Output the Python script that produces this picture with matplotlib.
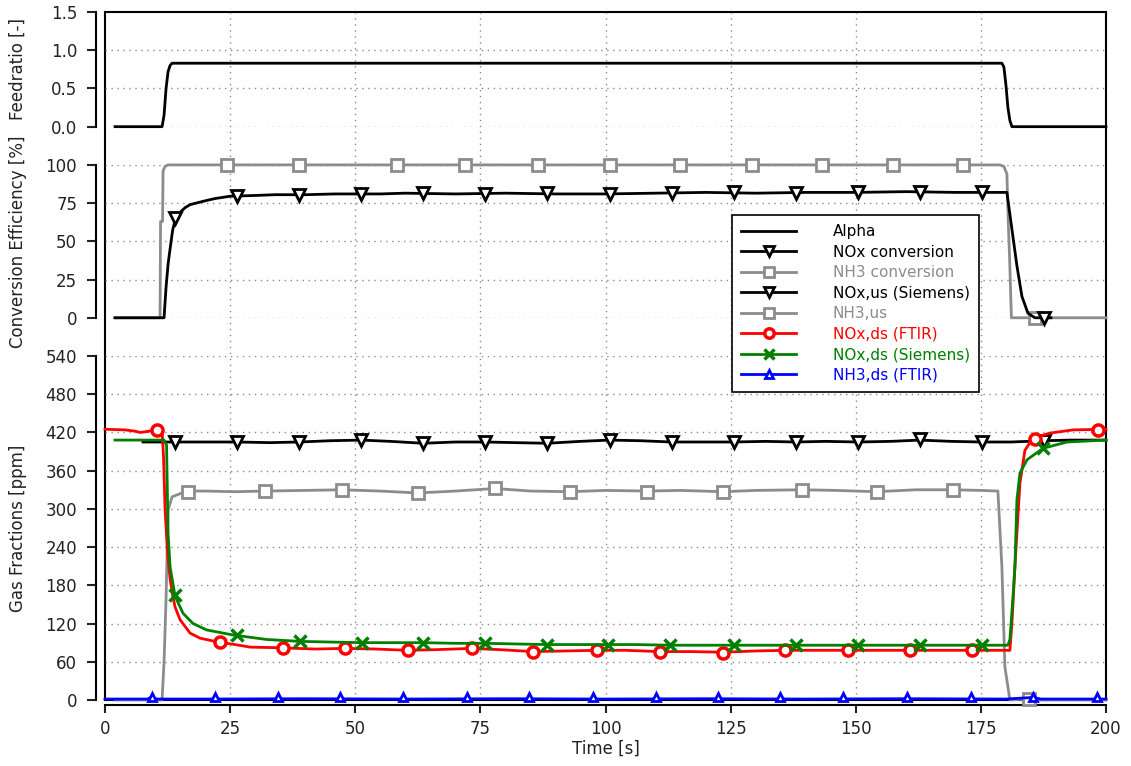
import matplotlib
matplotlib.use("Agg")
import matplotlib.pyplot as plt
from matplotlib.lines import Line2D

# ---------------- data ----------------
x_ticks = [0, 25, 50, 75, 100, 125, 150, 175, 200]
feed_ticks = [0.0, 0.5, 1.0, 1.5]
conv_ticks = [0, 25, 50, 75, 100]
gas_ticks = [0, 60, 120, 180, 240, 300, 360, 420, 480, 540]

# Feedratio (Alpha)
alpha_t = [2, 11.4, 11.8, 12.2, 12.6, 13.0, 13.4, 20, 40, 60, 80, 100, 120, 140, 160, 179.2, 179.6, 180.0, 180.4, 180.8, 181.2, 200]
alpha_v = [0, 0, 0.15, 0.50, 0.72, 0.80, 0.83, 0.83, 0.83, 0.83, 0.83, 0.83, 0.83, 0.83, 0.83, 0.83, 0.78, 0.55, 0.25, 0.08, 0.0, 0.0]

# Conversion efficiencies [%]
noxconv_t = [2, 11.8, 12.2, 12.6, 13.0, 13.5, 14, 15, 16, 17, 20, 22, 25, 30, 34, 40, 46, 55, 60, 70, 80, 90, 100, 110, 120, 130, 140, 150, 160, 170, 180.2, 181.2, 182.2, 183.2, 184.4, 185.8, 189]
noxconv_v = [0, 0, 20, 35, 45, 57, 64, 69, 72, 74, 76.5, 78, 79.5, 80, 80.5, 80.5, 81, 81, 81.5, 81, 81.5, 81, 81, 81.5, 82, 81.5, 82, 82, 82.5, 82, 82, 58, 34, 14, 3, 0, 0]
noxconv_mt = [14.0, 26.4, 38.8, 51.2, 63.6, 76.0, 88.4, 100.8, 113.2, 125.6, 138.0, 150.4, 162.8, 175.2, 187.6]
noxconv_mv = [65, 79.5, 80.5, 81, 81.5, 81, 81.5, 81, 81.5, 82, 81.5, 82, 82.5, 82, 0]

nh3conv_t = [2, 11.0, 11.1, 11.5, 11.6, 12.0, 12.6, 100, 178.8, 179.6, 180.2, 180.5, 180.7, 181.1, 200]
nh3conv_v = [0, 0, 63, 63, 96, 99, 100, 100, 100, 99, 94, 60, 43, 0, 0]
nh3conv_mt = [24.4, 38.8, 58.3, 71.9, 86.5, 100.9, 114.9, 129.3, 143.3, 157.4, 171.4, 185.8]
nh3conv_mv = [100, 100, 100, 100, 100, 100, 100, 100, 100, 100, 100, 0]

# Gas fractions [ppm]
noxus_t = [7.6, 14, 20, 26.4, 33, 38.8, 45, 51.2, 57, 63.6, 70, 76, 82, 88.4, 95, 100.8, 107, 113.2, 119, 125.6, 132, 138, 144, 150.4, 157, 162.8, 169, 175.2, 181, 187.6, 193, 200]
noxus_v = [405, 405, 405, 405, 404, 405, 407, 408, 406, 403, 405, 405, 404, 403, 406, 408, 407, 405, 405, 405, 406, 405, 406, 405, 406, 408, 406, 405, 405, 407, 408, 408]
noxus_mt = [14.0, 26.4, 38.8, 51.2, 63.6, 76.0, 88.4, 100.8, 113.2, 125.6, 138.0, 150.4, 162.8, 175.2, 187.6]
noxus_mv = [405, 405, 405, 408, 403, 405, 403, 408, 405, 405, 405, 405, 410, 405, 407]

nh3us_t = [2, 11.4, 11.8, 12.2, 12.6, 13.4, 16.4, 20, 26, 32, 40, 47.4, 55, 62.5, 70, 77.9, 85, 92.9, 100, 108.3, 115, 123.5, 130, 139.3, 146, 154.2, 162, 169.4, 175, 178.4, 179.2, 179.8, 180.8, 184.7, 186, 200]
nh3us_v = [0, 0, 60, 160, 298, 319, 328, 328, 327, 328, 329, 330, 328, 325, 328, 332, 328, 327, 329, 328, 329, 327, 329, 330, 329, 327, 330, 330, 329, 328, 209, 52, 0, 2, 0, 0]
nh3us_mt = [16.6, 32.0, 47.4, 62.5, 77.9, 92.9, 108.3, 123.5, 139.3, 154.2, 169.4, 184.7]
nh3us_mv = [327, 328, 330, 325, 333, 327, 327, 327, 330, 327, 330, 2]

noxftir_t = [0, 4, 6, 7, 8, 9.5, 10.4, 11.2, 11.4, 11.7, 12.0, 12.5, 13.0, 13.5, 14, 15, 17, 19, 22.6, 26, 29, 35, 42, 48, 54, 60.5, 66, 73.3, 79, 85.5, 92, 98.3, 104, 110.9, 117, 123.5, 130, 135.9, 142, 148.5, 155, 160.8, 167, 173.2, 180.8, 181.2, 181.8, 182.2, 182.8, 183.8, 185.4, 188.8, 193.4, 200]
noxftir_v = [425, 424, 422, 420, 421, 423, 425, 424, 424, 380, 300, 230, 190, 165, 146, 126, 105, 97, 91, 87, 83, 82, 80, 81, 80, 78, 79, 81, 79, 76, 77, 78, 78, 76, 76, 75, 77, 78, 78, 78, 78, 78, 78, 78, 78, 120, 209, 262, 340, 392, 411, 419, 424, 425]
noxftir_mt = [10.4, 23.0, 35.6, 48.0, 60.5, 73.3, 85.5, 98.3, 110.9, 123.5, 135.9, 148.5, 160.8, 173.2, 185.8, 198.4]
noxftir_mv = [424, 91, 82, 82, 78, 82, 76, 78, 76, 74, 78, 78, 78, 78, 410, 424]

noxsie_t = [2, 11.8, 12.3, 12.6, 13.0, 14, 15.6, 17.6, 20.3, 25.6, 32.3, 39, 45, 51.3, 57, 63.5, 70, 75.9, 82, 88.3, 94, 100.5, 106, 112.9, 130, 150, 170, 180.4, 180.8, 181.4, 181.8, 182.2, 182.8, 184.2, 187.4, 192.2, 200]
noxsie_v = [408, 408, 400, 262, 209, 163, 136, 120, 110, 102, 95, 92, 91, 90, 90, 90, 89, 89, 88, 87, 87, 87, 87, 86, 86, 86, 86, 86, 95, 160, 209, 314, 356, 377, 395, 405, 408]
noxsie_mt = [14.0, 26.4, 39.0, 51.3, 63.5, 75.9, 88.3, 100.5, 112.9, 125.7, 138.1, 150.4, 162.8, 175.2, 187.4]
noxsie_mv = [165, 102, 93, 89, 89, 89, 86, 86, 86, 86, 86, 86, 86, 86, 395]

nh3ftir_t = [0, 8.5, 9.4, 10.3, 20, 40, 60, 80, 100, 120, 140, 160, 180, 185.4, 187, 200]
nh3ftir_v = [1.5, 1.5, 5, 1.5, 1.5, 2, 1.5, 2, 1.5, 2, 1.5, 2, 1.5, 4, 1.5, 1.5]
nh3ftir_mt = [9.4, 22.0, 34.6, 47.0, 59.5, 72.3, 84.7, 97.5, 110.1, 122.5, 134.9, 147.5, 160.2, 173.0, 185.4, 198.2]
nh3ftir_mv = [4, 4, 4, 4, 4, 4, 4, 4, 4, 4, 4, 4, 4, 4, 4, 4]

labels = ["Alpha", "NOx conversion", "NH3 conversion", "NOx,us (Siemens)",
          "NH3,us", "NOx,ds (FTIR)", "NOx,ds (Siemens)", "NH3,ds (FTIR)"]

# ---------------- styling ----------------
BLACK, GRAY, RED, GREEN, BLUE = "#000000", "#8c8c8c", "#ff0000", "#008000", "#0000ff"
GRID = "#8a8a8a"
DOT = (0, (1, 3.3))
FS = 12

W, H = 1131, 766
fig = plt.figure(figsize=(W / 100, H / 100), dpi=100)
L, R, T, B = 105, 1106, 12, 700
step = (B - T) / 18.0


def rect(top_px, bot_px):
    return [L / W, 1 - bot_px / H, (R - L) / W, (bot_px - top_px) / H]


# background frame with vertical grid
bg = fig.add_axes(rect(T, B))
bg.set_xlim(0, 200)
bg.set_ylim(0, 1)
bg.set_xticks([])
bg.set_yticks([])
for s in bg.spines.values():
    s.set_linewidth(1.5)
for x in x_ticks[1:-1]:
    bg.axvline(x, color=GRID, ls=DOT, lw=1.0, zorder=0)

# x axis (offset below the frame)
xa = fig.add_axes(rect(T, B))
xa.patch.set_visible(False)
for k in ("top", "right", "left"):
    xa.spines[k].set_visible(False)
xa.spines["bottom"].set_position(("outward", 3.6))
xa.spines["bottom"].set_linewidth(1.5)
xa.set_xlim(0, 200)
xa.set_xticks(x_ticks)
xa.set_yticks([])
xa.tick_params(axis="x", length=5.8, width=1.5, pad=5.0, labelsize=FS, colors="#222222")
fig.text((L + R) / 2 / W, 1 - 749 / H, "Time [s]", ha="center", va="center", fontsize=FS, color="#222222")


def sub_axes(top_px, bot_px, ylim, ticks, fmt, label, grid_vals):
    ax = fig.add_axes(rect(top_px, bot_px))
    ax.patch.set_visible(False)
    for k in ("top", "right", "bottom"):
        ax.spines[k].set_visible(False)
    ax.spines["left"].set_position(("outward", 6.5))
    ax.spines["left"].set_linewidth(1.5)
    ax.set_xlim(0, 200)
    ax.set_ylim(*ylim)
    ax.set_xticks([])
    ax.set_yticks(ticks)
    ax.set_yticklabels([fmt.format(t) for t in ticks])
    ax.tick_params(axis="y", length=6.5, width=1.5, pad=7, labelsize=FS, colors="#222222")
    for t in grid_vals:
        ax.axhline(t, color=GRID, ls=DOT, lw=1.0, zorder=0)
    fig.text(18 / W, 1 - (top_px + bot_px) / 2 / H, label, rotation=90,
             ha="center", va="center", fontsize=FS, color="#222222")
    return ax


ax_f = sub_axes(T, T + 3 * step, (0, 1.5), feed_ticks, "{:.1f}", "Feedratio [-]", feed_ticks[:-1])
ax_c = sub_axes(T + 4 * step, T + 8 * step, (0, 100), conv_ticks, "{:d}", "Conversion Efficiency [%]", conv_ticks)
ax_g = sub_axes(T + 9 * step, B, (0, 540), gas_ticks, "{:d}", "Gas Fractions [ppm]", gas_ticks[1:])

LW = 2.0
styles = [
    dict(color=BLACK, marker=None),
    dict(color=BLACK, marker="v", ms=9, mfc="white", mec=BLACK, mew=2.0),
    dict(color=GRAY, marker="s", ms=9, mfc="white", mec=GRAY, mew=2.0),
    dict(color=BLACK, marker="v", ms=9, mfc="white", mec=BLACK, mew=2.0),
    dict(color=GRAY, marker="s", ms=9, mfc="white", mec=GRAY, mew=2.0),
    dict(color=RED, marker="o", ms=8, mfc="white", mec=RED, mew=2.5),
    dict(color=GREEN, marker="x", ms=9, mfc=GREEN, mec=GREEN, mew=2.5),
    dict(color=BLUE, marker="^", ms=6, mfc="white", mec=BLUE, mew=2.0),
]

series = [
    (ax_f, alpha_t, alpha_v, None, None),
    (ax_c, noxconv_t, noxconv_v, noxconv_mt, noxconv_mv),
    (ax_c, nh3conv_t, nh3conv_v, nh3conv_mt, nh3conv_mv),
    (ax_g, noxus_t, noxus_v, noxus_mt, noxus_mv),
    (ax_g, nh3us_t, nh3us_v, nh3us_mt, nh3us_mv),
    (ax_g, noxftir_t, noxftir_v, noxftir_mt, noxftir_mv),
    (ax_g, noxsie_t, noxsie_v, noxsie_mt, noxsie_mv),
    (ax_g, nh3ftir_t, nh3ftir_v, nh3ftir_mt, nh3ftir_mv),
]

order_z = [3, 4, 3, 4, 3, 5, 6, 7]
for (ax, t, v, mt, mv), st, z in zip(series, styles, order_z):
    ax.plot(t, v, color=st["color"], lw=LW, zorder=z, clip_on=False)
    if mt is not None:
        ax.plot(mt, mv, ls="none", marker=st["marker"], ms=st["ms"], mfc=st["mfc"],
                mec=st["mec"], mew=st["mew"], zorder=z + 0.5, clip_on=False)

handles = []
for st in styles:
    kw = dict(color=st["color"], lw=LW)
    if st["marker"]:
        kw.update(marker=st["marker"], ms=st["ms"] * 0.85, mfc=st["mfc"], mec=st["mec"], mew=st["mew"])
    handles.append(Line2D([], [], **kw))

leg = fig.legend(handles, labels, loc="upper left", bbox_to_anchor=(732 / W, 1 - 215 / H),
                 fontsize=11, handlelength=3.6, handletextpad=2.4, labelspacing=0.36,
                 borderpad=0.6, numpoints=1, fancybox=False, framealpha=1,
                 edgecolor="black", borderaxespad=0, labelcolor="linecolor")
leg.get_frame().set_linewidth(1.2)
leg.set_zorder(20)

fig.savefig("out.png", dpi=100)
